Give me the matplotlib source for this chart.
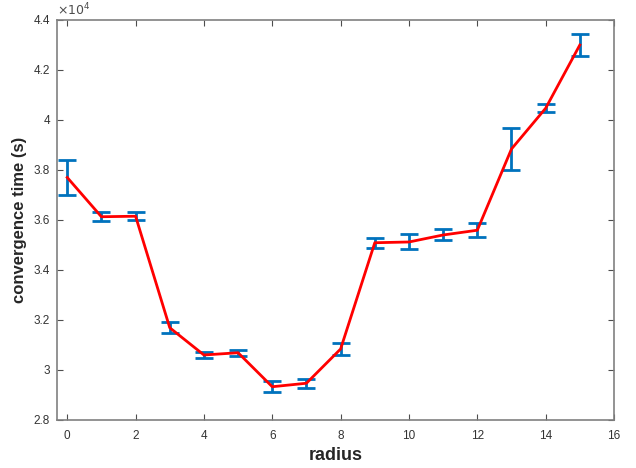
import numpy as np
import matplotlib
matplotlib.use('Agg')
import matplotlib.pyplot as plt
from matplotlib.ticker import FuncFormatter

plt.rcParams['font.family'] = ['Liberation Sans', 'DejaVu Sans']

radius = [0, 1, 2, 3, 4, 5, 6, 7, 8, 9, 10, 11, 12, 13, 14, 15]
conv_time = [37700, 36130, 36150, 31690, 30600, 30690, 29330, 29470, 30840,
             35090, 35120, 35400, 35590, 38840, 40470, 43000]
conv_err = [690, 170, 150, 230, 130, 120, 220, 180, 230,
            200, 300, 220, 280, 840, 150, 440]

fig = plt.figure(figsize=(6.36, 4.68), dpi=100)
ax = fig.add_axes([0.0896, 0.1026, 0.8758, 0.8547])

ax.errorbar(radius, conv_time, yerr=conv_err, fmt='none', ecolor='#0072BD',
            elinewidth=2, capsize=6.5, capthick=2, zorder=2)
ax.plot(radius, conv_time, color='#FF0000', linewidth=2, zorder=3)

ax.set_xlim(-0.3, 16)
ax.set_ylim(28000, 44000)
ax.set_xticks(np.arange(0, 17, 2))
ax.set_yticks(np.arange(28000, 44001, 2000))
ax.yaxis.set_major_formatter(FuncFormatter(lambda v, p: '%g' % (v / 1e4)))
ax.text(0.0, 1.005, r'$\times10^4$', transform=ax.transAxes, fontsize=9,
        color='#4d4d4d', ha='left', va='bottom')

ax.tick_params(direction='in', top=True, right=True, length=4, width=0.8,
               colors='#4d4d4d', labelsize=8.5, labelcolor='#333333')
ax.tick_params(axis='x', pad=7)
ax.tick_params(axis='y', pad=5)
for sp in ax.spines.values():
    sp.set_color('#808080')
    sp.set_linewidth(1.2)

ax.set_xlabel('radius', fontsize=13, fontweight='bold', color='#262626', labelpad=4)
ax.set_ylabel('convergence time (s)', fontsize=12, fontweight='bold', color='#262626',
              labelpad=5)

fig.savefig('out.png', dpi=100)
